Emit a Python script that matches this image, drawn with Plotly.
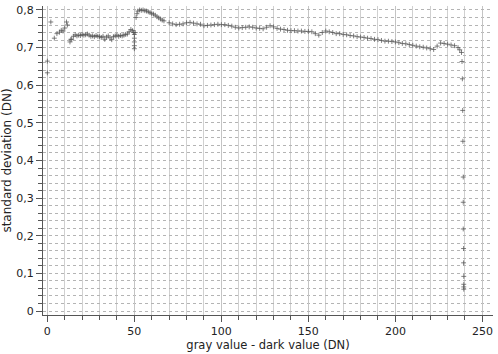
import plotly.graph_objects as go

# gray value - dark value (DN)
x_vals = [
    0, 0, 2, 4, 5.5, 7, 8, 9, 10, 11, 11.5, 13, 13.5,
    14, 15, 16, 17, 18, 19, 20, 21, 22, 23, 24, 25, 26, 27, 28, 29, 30, 31,
    32, 33, 34, 35, 36, 37, 38, 39, 40, 41, 42, 43, 44, 45, 46, 47, 48,
    49, 49.5, 50, 50, 50, 50, 50, 50.5,
    51, 51.5, 52, 53, 54, 55, 56, 57, 58, 59, 60, 61, 62, 63, 64, 65, 66, 67,
    70, 72, 74, 76, 78, 80, 82, 84, 86, 88, 90, 92, 94, 96, 98, 100, 102, 104,
    106, 108, 110, 112, 114, 116, 118, 120, 122, 124, 126, 128, 130, 132, 134,
    136, 138, 140, 142, 144, 146, 148, 150, 152, 154, 156, 158, 160, 162, 164,
    166, 168, 170, 172, 174, 176, 178, 180, 182, 184, 186, 188, 190, 192, 194,
    196, 198, 200, 202, 204, 206, 208, 210, 212, 214, 216, 218, 220, 222, 224,
    226, 228, 230, 232, 234, 236, 237, 238,
    238.3, 238.5, 238.7, 238.8, 239, 239, 239, 239.2, 239.2, 239.3, 239.3, 239.3, 239.3,
]
# standard deviation (DN)
std_vals = [
    0.633, 0.664, 0.768, 0.725, 0.737, 0.741, 0.746, 0.744, 0.752, 0.768, 0.760, 0.715, 0.722,
    0.722, 0.730, 0.734, 0.731, 0.733, 0.732, 0.735, 0.733, 0.734, 0.736, 0.733, 0.730, 0.731,
    0.729, 0.732, 0.730, 0.729, 0.727, 0.730, 0.722, 0.728, 0.731, 0.726, 0.721, 0.729, 0.731,
    0.733, 0.730, 0.732, 0.731, 0.733, 0.735, 0.736, 0.742, 0.748,
    0.745, 0.740, 0.735, 0.725, 0.715, 0.705, 0.697, 0.740,
    0.780, 0.790, 0.797, 0.800, 0.799, 0.800, 0.798, 0.797, 0.795, 0.793, 0.790, 0.789, 0.786,
    0.782, 0.779, 0.776, 0.773, 0.771,
    0.766, 0.763, 0.761, 0.762, 0.763, 0.766, 0.767, 0.765, 0.763, 0.762, 0.758, 0.759, 0.760,
    0.761, 0.762, 0.761, 0.761, 0.759, 0.757, 0.754, 0.752, 0.753, 0.754, 0.755, 0.754, 0.752,
    0.751, 0.750, 0.754, 0.758, 0.755, 0.751, 0.749, 0.748, 0.746, 0.745, 0.745, 0.744, 0.744,
    0.743, 0.743, 0.742, 0.737, 0.733, 0.740, 0.744, 0.742, 0.740, 0.737, 0.737, 0.735, 0.734,
    0.732, 0.731, 0.729, 0.728, 0.727, 0.725, 0.724, 0.722, 0.721, 0.719, 0.717, 0.717, 0.716,
    0.715, 0.713, 0.711, 0.710, 0.708, 0.706, 0.704, 0.702, 0.701, 0.699, 0.697, 0.695, 0.704,
    0.712, 0.711, 0.709, 0.707, 0.705, 0.700, 0.694, 0.687,
    0.663, 0.617, 0.533, 0.451, 0.356, 0.289, 0.218, 0.166, 0.128, 0.092, 0.071, 0.064, 0.058,
]

x_tick_vals = [0, 50, 100, 150, 200, 250]
x_tick_text = ["0", "50", "100", "150", "200", "250"]
y_tick_vals = [0, 0.1, 0.2, 0.3, 0.4, 0.5, 0.6, 0.7, 0.8]
y_tick_text = ["0", "0,1", "0,2", "0,3", "0,4", "0,5", "0,6", "0,7", "0,8"]

FONT = "DejaVu Sans"

fig = go.Figure()
fig.add_trace(go.Scatter(
    x=x_vals, y=std_vals, mode="markers",
    marker=dict(symbol="cross-thin", size=3.5,
                line=dict(width=1, color="rgba(85,85,85,0.75)")),
    showlegend=False,
))

fig.update_layout(
    width=498, height=354,
    margin=dict(l=43, r=5, t=4, b=39),
    paper_bgcolor="white", plot_bgcolor="white",
    font=dict(family=FONT, size=11, color="#222"),
    xaxis=dict(
        range=[-2.5, 256.1], tickvals=x_tick_vals, ticktext=x_tick_text,
        showgrid=True, gridcolor="#c4c4c4", gridwidth=1,
        ticks="outside", ticklen=6, tickcolor="#555",
        showline=True, linecolor="#555", linewidth=1,
        zeroline=False,
        minor=dict(dtick=10, tick0=0, showgrid=True, gridcolor="#d0d0d0",
                   ticks="outside", ticklen=4, tickcolor="#555"),
        title=dict(text="gray value - dark value (DN)", font=dict(size=11.5), standoff=2),
    ),
    yaxis=dict(
        range=[-0.0106, 0.8105], tickvals=y_tick_vals, ticktext=y_tick_text,
        showgrid=True, gridcolor="#b4b4b4", griddash="dot", gridwidth=1,
        ticks="outside", ticklen=6, tickcolor="#555",
        showline=True, linecolor="#555", linewidth=1,
        zeroline=False,
        minor=dict(dtick=0.02, tick0=0, showgrid=True, gridcolor="#b4b4b4",
                   griddash="dot", ticks="outside", ticklen=4, tickcolor="#555"),
        title=dict(text="standard deviation (DN)", font=dict(size=12), standoff=4),
    ),
)

fig.write_html("out.html")
